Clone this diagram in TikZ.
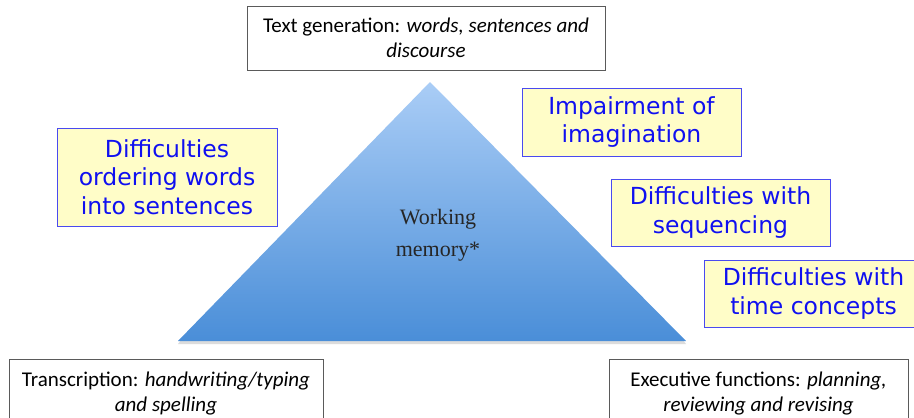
\documentclass[tikz,border=0pt]{standalone}
\usepackage{fontspec}
\setmainfont{Carlito}
\newfontfamily\bluefont{DejaVu Sans}
\newfontfamily\wmfont{Liberation Serif}
\definecolor{boxgray}{HTML}{5A5A5A}
\definecolor{yelfill}{HTML}{FFFDC8}
\definecolor{yelline}{HTML}{4A4AF0}
\definecolor{bluetext}{HTML}{1010F0}
\definecolor{tritop}{HTML}{AACDF6}
\definecolor{tribot}{HTML}{4A8ED8}
\tikzset{
  graybox/.style={draw=boxgray, line width=0.9pt, fill=white, inner sep=0pt, align=center,
    font=\fontsize{21}{25}\selectfont},
  yelbox/.style={draw=yelline, line width=0.9pt, fill=yelfill, inner sep=0pt, align=center,
    text=bluetext, font=\bluefont\fontsize{23.5}{28.5}\selectfont},
}
\begin{document}
\begin{tikzpicture}[x=1pt,y=-1pt]
\useasboundingbox (0,0) rectangle (914,418);
\clip (0,0) rectangle (914,418);
\fill[white] (0,0) rectangle (914,418);
% triangle
\fill[gray!45, opacity=0.6] (181,340) -- (683,340) -- (686,344) -- (178,344) -- cycle;
\shade[top color=tritop, bottom color=tribot] (430,82) -- (686,341) -- (178,341) -- cycle;
\node[font=\wmfont\fontsize{22}{32}\selectfont, text=black!85, align=center] (wm) at (438,235) {Working\\memory*};
% gray boxes
\node[graybox, minimum width=358pt, minimum height=64pt] (top) at (426,38)
  {Text generation: \textit{words, sentences and}\\\textit{discourse}};
\node[graybox, minimum width=314pt, minimum height=70pt] (bl) at (166,394)
  {Transcription: \textit{handwriting/typing}\\\textit{and spelling}};
\node[graybox, minimum width=299pt, minimum height=70pt] (br) at (758.5,394)
  {Executive functions: \textit{planning,}\\\textit{reviewing and revising}};
% yellow boxes
\node[yelbox, minimum width=220pt, minimum height=98pt] (order) at (167,177)
  {Difficulties\\ordering words\\into sentences};
\node[yelbox, minimum width=219pt, minimum height=68pt] (imag) at (631.5,122)
  {Impairment of\\imagination};
\node[yelbox, minimum width=219pt, minimum height=67pt] (seq) at (720.5,212.5)
  {Difficulties with\\sequencing};
\node[yelbox, minimum width=219pt, minimum height=67pt] (time) at (813.5,293.5)
  {Difficulties with\\time concepts};
\end{tikzpicture}
\end{document}
